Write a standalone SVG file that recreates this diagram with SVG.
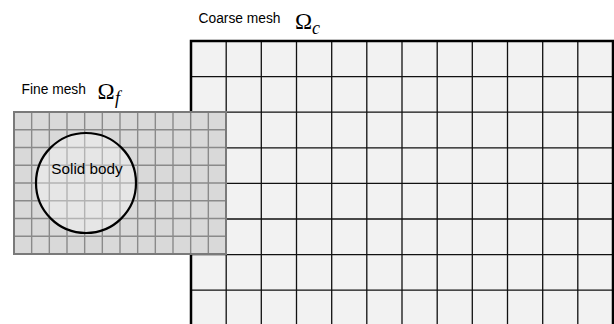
<svg xmlns="http://www.w3.org/2000/svg" width="614" height="324" viewBox="0 0 614 324">
<style>
.lbl{font-family:"Liberation Sans",Arial,sans-serif;font-size:13.8px;fill:#000}
.om{font-family:"Liberation Serif","DejaVu Serif",serif;font-size:23px;fill:#000}
.sub{font-family:"Liberation Serif","DejaVu Serif",serif;font-style:italic;font-size:18px;fill:#000}
.cgrid{fill:none;stroke:#111;stroke-width:1.3}
.fgrid{fill:none;stroke:#8a8a8a;stroke-width:1.4}
</style>
<rect width="614" height="324" fill="#fff"/>
<g id="coarse-mesh">
<rect x="191" y="41" width="422" height="300" fill="#f2f2f2"/>
<path class="cgrid" d="M226.2 41V324M261.3 41V324M296.5 41V324M331.7 41V324M366.8 41V324M402 41V324M437.2 41V324M472.3 41V324M507.5 41V324M542.7 41V324M577.8 41V324M191 76.6H613M191 112.2H613M191 147.8H613M191 183.4H613M191 219H613M191 254.6H613M191 290.2H613"/>
<rect x="191" y="41" width="422" height="300" fill="none" stroke="#000" stroke-width="2.5"/>
</g>
<g id="fine-mesh">
<rect x="14" y="112" width="212" height="142" fill="#d9d9d9"/>
<path class="fgrid" d="M31.67 112V254M49.33 112V254M67 112V254M84.67 112V254M102.33 112V254M120 112V254M137.67 112V254M155.33 112V254M173 112V254M190.67 112V254M208.33 112V254M14 129.75H226M14 147.5H226M14 165.25H226M14 183H226M14 200.75H226M14 218.5H226M14 236.25H226"/>
<rect x="14" y="112" width="212" height="142" fill="none" stroke="#7a7a7a" stroke-width="2"/>
</g>
<g id="solid-body">
<circle cx="86" cy="183" r="50" fill="#fff" fill-opacity="0.35" stroke="#000" stroke-width="2.2"/>
<text x="87" y="173.5" text-anchor="middle" class="lbl" style="font-size:15.3px">Solid body</text>
</g>
<g id="labels">
<text x="198.5" y="23.3" class="lbl">Coarse mesh</text>
<text x="295" y="28.5" class="om">Ω</text>
<text x="312" y="33.5" class="sub">c</text>
<text x="21.5" y="93.8" class="lbl">Fine mesh</text>
<text x="97.5" y="99" class="om">Ω</text>
<text x="115" y="104" class="sub">f</text>
</g>
</svg>
